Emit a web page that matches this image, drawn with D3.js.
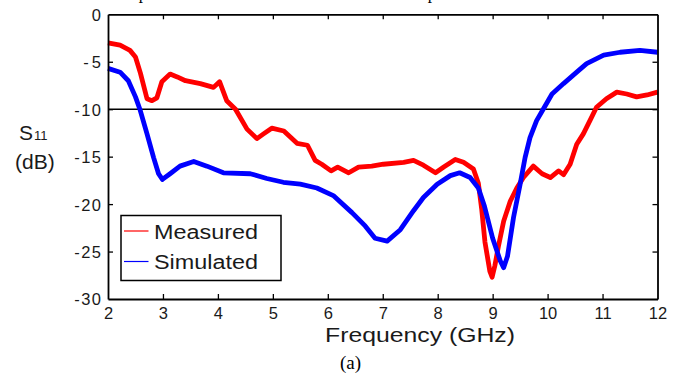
<!DOCTYPE html>
<html>
<head>
<meta charset="utf-8">
<script src="https://cdn.jsdelivr.net/npm/d3@7/dist/d3.min.js"></script>
<style>
  html, body { margin: 0; padding: 0; background: #fff; }
  svg { display: block; }
  text { font-family: "Liberation Sans", Arial, sans-serif; fill: #1a1a1a; }
</style>
</head>
<body>
<svg id="chart" width="688" height="374"></svg>
<script>
// Return loss S11 (dB) versus frequency (GHz)
const measuredFreq = [2.0, 2.22, 2.4, 2.5, 2.59, 2.71, 2.8, 2.89, 2.98, 3.13, 3.26, 3.41, 3.68, 3.92, 4.03,
  4.16, 4.32, 4.53, 4.71, 4.83, 4.98, 5.2, 5.44, 5.63, 5.77, 5.89, 6.06, 6.18, 6.38, 6.56, 6.8, 7.01,
  7.38, 7.56, 7.74, 7.96, 8.11, 8.32, 8.47, 8.65, 8.74, 8.8, 8.86, 8.95, 8.99, 9.04, 9.11, 9.2, 9.32,
  9.44, 9.56, 9.74, 9.9, 10.05, 10.2, 10.29, 10.41, 10.53, 10.65, 10.77, 10.89, 11.07, 11.26, 11.44,
  11.62, 11.81, 12.0];
const measuredS11 = [-3.0, -3.25, -3.8, -4.5, -6.2, -8.9, -9.1, -8.8, -7.1, -6.3, -6.6, -7.0, -7.3, -7.7, -7.1,
  -9.1, -10.0, -12.1, -13.1, -12.6, -12.0, -12.3, -13.6, -13.8, -15.4, -15.8, -16.5, -16.1, -16.7, -16.1, -16.0, -15.8,
  -15.6, -15.4, -15.9, -16.7, -16.1, -15.3, -15.6, -16.3, -17.8, -20.5, -24.0, -27.1, -27.7, -26.5, -24.3, -21.8, -19.7,
  -18.3, -17.2, -16.0, -16.8, -17.2, -16.5, -16.9, -15.8, -13.7, -12.6, -11.2, -9.8, -8.9, -8.2, -8.4,
  -8.7, -8.5, -8.2];

const simulatedFreq = [2.0, 2.22, 2.37, 2.5, 2.58, 2.71, 2.83, 2.92, 2.99, 3.13, 3.31, 3.56, 3.8, 4.1, 4.59,
  4.89, 5.19, 5.5, 5.8, 6.1, 6.44, 6.68, 6.86, 7.08, 7.32, 7.56, 7.74, 7.99, 8.23, 8.4, 8.59, 8.74,
  8.85, 9.0, 9.14, 9.2, 9.27, 9.38, 9.5, 9.59, 9.68, 9.8, 9.92, 10.08, 10.29, 10.53, 10.71, 11.02,
  11.32, 11.68, 12.0];
const simulatedS11 = [-5.7, -6.1, -7.0, -8.7, -10.0, -12.6, -15.1, -16.8, -17.4, -16.8, -16.0, -15.5, -16.0, -16.7, -16.8,
  -17.3, -17.7, -17.9, -18.3, -19.1, -20.9, -22.3, -23.6, -23.9, -22.7, -20.7, -19.3, -17.9, -17.0, -16.7, -17.2, -18.3,
  -20.2, -23.6, -26.0, -26.7, -25.5, -21.4, -17.9, -15.1, -13.0, -11.2, -10.0, -8.4, -7.3, -6.1, -5.2, -4.3,
  -4.0, -3.8, -4.0];

const xTicks = [2, 3, 4, 5, 6, 7, 8, 9, 10, 11, 12];
const yTicks = [0, -5, -10, -15, -20, -25, -30];
const seriesNames = ["Measured", "Simulated"];
const seriesColors = ["#ff0000", "#0000ff"];
const thresholdDb = -10;

const svg = d3.select("#chart");
const plotLeft = 108, plotRight = 657.5, plotTop = 14.3, plotBottom = 299;

const x = d3.scaleLinear().domain([2, 12]).range([plotLeft, plotRight]);
const y = d3.scaleLinear().domain([-30, 0]).range([plotBottom, plotTop]);

// Fragments of the caption line above the figure
svg.selectAll("text.cap").data([143, 432]).join("text")
  .attr("class", "cap")
  .attr("x", d => d).attr("y", -1)
  .attr("text-anchor", "middle")
  .style("font-family", "'Liberation Serif', 'Times New Roman', serif")
  .style("font-size", "17px")
  .style("fill", "#000")
  .text("p");

// -10 dB reference line
svg.append("line")
  .attr("x1", x(2)).attr("x2", x(12))
  .attr("y1", y(thresholdDb)).attr("y2", y(thresholdDb))
  .attr("stroke", "#000").attr("stroke-width", 1.5);

// Curves
const series = [
  { f: measuredFreq, v: measuredS11 },
  { f: simulatedFreq, v: simulatedS11 }
];
const line = d3.line().x(d => x(d[0])).y(d => y(d[1]));
series.forEach((s, i) => {
  svg.append("path")
    .datum(s.f.map((f, k) => [f, s.v[k]]))
    .attr("d", line)
    .attr("fill", "none")
    .attr("stroke", seriesColors[i])
    .attr("stroke-width", 4.8)
    .attr("stroke-linejoin", "round")
    .attr("stroke-linecap", "butt");
});

// Axes with inward ticks on all four sides
const tickLen = 5;
const innerX = xTicks.slice(1, -1);
const innerY = yTicks.slice(1, -1);
const plainNum = d => String(d);   // ASCII hyphen for negatives

const gx = svg.append("g").attr("transform", `translate(0,${plotBottom})`)
  .call(d3.axisBottom(x).tickValues(xTicks).tickSize(-tickLen).tickSizeOuter(0).tickPadding(12).tickFormat(plainNum));
const gxTop = svg.append("g").attr("transform", `translate(0,${plotTop})`)
  .call(d3.axisTop(x).tickValues(innerX).tickSize(-tickLen).tickSizeOuter(0).tickFormat(""));
const gy = svg.append("g").attr("transform", `translate(${plotLeft},0)`)
  .call(d3.axisLeft(y).tickValues(yTicks).tickSize(-tickLen).tickSizeOuter(0).tickPadding(7).tickFormat(plainNum));
const gyRight = svg.append("g").attr("transform", `translate(${plotRight},0)`)
  .call(d3.axisRight(y).tickValues(innerY).tickSize(-tickLen).tickSizeOuter(0).tickFormat(""));

[gx, gxTop, gy, gyRight].forEach(g => {
  g.select(".domain").attr("stroke", "#000").attr("stroke-width", 1.8);
  g.selectAll(".tick line").attr("stroke", "#000").attr("stroke-width", 1.3);
  g.selectAll(".tick text")
    .style("font-size", "16.5px")
    .style("font-family", "'Liberation Sans', Arial, sans-serif")
    .attr("fill", "#1a1a1a");
});
gx.selectAll(".tick text").attr("dy", "0.5em");
gy.selectAll(".tick text").attr("dy", "0.36em")
  .each(function (d) {
    // negative labels are set a little wider, with a roomier hyphen
    if (d < 0) {
      const w = this.getComputedTextLength();
      d3.select(this).attr("textLength", w + 3).attr("lengthAdjust", "spacing");
    }
  });
// Hide the outermost tick marks that coincide with the frame
gx.selectAll(".tick line").filter(d => d === 2 || d === 12).remove();
gy.selectAll(".tick line").filter(d => d === 0 || d === -30).remove();

// Axis titles
svg.append("text")
  .attr("x", 325).attr("y", 341.5)
  .attr("textLength", 190).attr("lengthAdjust", "spacingAndGlyphs")
  .style("font-size", "19.5px")
  .text("Frequency (GHz)");

const sLabel = svg.append("text").attr("x", 19).attr("y", 139.5).style("font-size", "21px");
sLabel.append("tspan").text("S");
sLabel.append("tspan").attr("dx", 1).style("font-size", "13px").text("11");
svg.append("text")
  .attr("x", 15).attr("y", 168.5)
  .style("font-size", "21px")
  .text("(dB)");

// Legend
const lg = svg.append("g");
lg.append("rect")
  .attr("x", 121).attr("y", 215.5).attr("width", 160).attr("height", 65)
  .attr("fill", "#fff").attr("stroke", "#000").attr("stroke-width", 1.5);
const legendRows = [231, 261.5];
seriesNames.forEach((name, i) => {
  lg.append("line")
    .attr("x1", 124).attr("x2", 148.5)
    .attr("y1", legendRows[i]).attr("y2", legendRows[i])
    .attr("stroke", seriesColors[i]).attr("stroke-width", 1.2);
  lg.append("text")
    .attr("x", 154).attr("y", legendRows[i] + 7.5)
    .attr("textLength", 104).attr("lengthAdjust", "spacingAndGlyphs")
    .style("font-size", "20px")
    .text(name);
});

// Sub-figure caption
svg.append("text")
  .attr("x", 350.5).attr("y", 369)
  .attr("text-anchor", "middle")
  .style("font-family", "'Liberation Serif', 'Times New Roman', serif")
  .style("font-size", "19px")
  .style("fill", "#000")
  .text("(a)");
</script>
</body>
</html>
